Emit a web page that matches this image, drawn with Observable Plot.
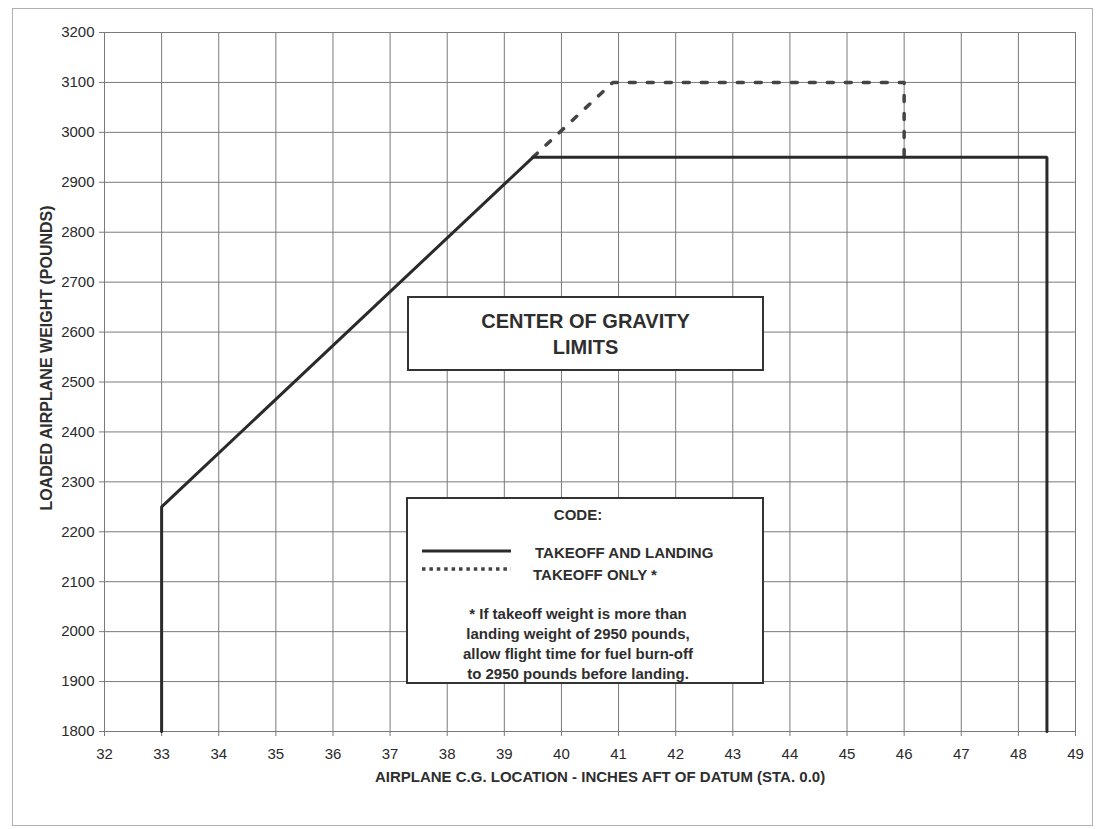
<!DOCTYPE html>
<html>
<head>
<meta charset="utf-8">
<script src="https://cdn.jsdelivr.net/npm/d3@7"></script>
<script src="https://cdn.jsdelivr.net/npm/@observablehq/plot@0.6"></script>
<style>
  html, body { margin: 0; padding: 0; background: #fff; }
  #wrap { position: relative; width: 1098px; height: 829px; font-family: "Liberation Sans", Arial, sans-serif; color: #2e2e2e; }
  #wrap svg { position: absolute; left: 0; top: 0; }
  .abs { position: absolute; }
  #frame { left: 12px; top: 8px; width: 1081px; height: 818px; border: 1px solid #b0b0b0; box-sizing: border-box; }
  #titlebox { left: 407px; top: 296px; width: 357px; height: 75px; border: 2px solid #333; background: #fff; box-sizing: border-box;
              text-align: center; font-weight: bold; font-size: 20px; line-height: 26px; padding-top: 10px; }
  #codebox { left: 406px; top: 497px; width: 358px; height: 187px; border: 2px solid #333; background: #fff; box-sizing: border-box; }
  .lbl { font-weight: bold; font-size: 15px; white-space: nowrap; line-height: 20px; }
</style>
</head>
<body>
<div id="wrap">
  <div id="frame" class="abs"></div>
</div>
<script>
// Axis ticks
const xTicks = [32, 33, 34, 35, 36, 37, 38, 39, 40, 41, 42, 43, 44, 45, 46, 47, 48, 49];
const yTicks = [1800, 1900, 2000, 2100, 2200, 2300, 2400, 2500, 2600, 2700, 2800, 2900, 3000, 3100, 3200];

// Envelope: takeoff and landing (solid)
const solidX = [33, 33, 39.5, 48.5, 48.5];
const solidY = [1800, 2250, 2950, 2950, 1800];

// Envelope: takeoff only (dotted)
const dottedX = [39.5, 40.9, 46, 46];
const dottedY = [2950, 3100, 3100, 2950];

const xLabel = "AIRPLANE C.G. LOCATION - INCHES AFT OF DATUM (STA. 0.0)";
const yLabel = "LOADED AIRPLANE WEIGHT (POUNDS)";
const titleLines = ["CENTER OF GRAVITY", "LIMITS"];
const codeTitle = "CODE:";
const legendLabels = ["TAKEOFF AND LANDING", "TAKEOFF ONLY *"];
const noteLines = [
  "* If takeoff weight is more than",
  "landing weight of 2950 pounds,",
  "allow flight time for fuel burn-off",
  "to 2950 pounds before landing."
];

const solid = solidX.map((x, i) => ({x, y: solidY[i]}));
const dotted = dottedX.map((x, i) => ({x, y: dottedY[i]}));

const chart = Plot.plot({
  width: 1098,
  height: 829,
  marginLeft: 104,
  marginRight: 23,
  marginTop: 32,
  marginBottom: 98,
  style: {fontFamily: "'Liberation Sans', Arial, sans-serif", fontSize: "15px", color: "#2e2e2e", background: "transparent", overflow: "visible"},
  x: {domain: [32, 49], label: null},
  y: {domain: [1800, 3200], label: null},
  marks: [
    Plot.gridX(xTicks, {stroke: "#7a7a7a", strokeOpacity: 1, strokeWidth: 1}),
    Plot.gridY(yTicks, {stroke: "#7a7a7a", strokeOpacity: 1, strokeWidth: 1}),
    Plot.axisX(xTicks, {tickSize: 5, tickPadding: 12, tickFormat: d => String(d), label: null, stroke: "#7a7a7a", fill: "#2a2a2a"}),
    Plot.axisY(yTicks, {tickSize: 5, tickPadding: 5, tickFormat: d => String(d), label: null, stroke: "#7a7a7a", fill: "#2a2a2a"}),
    Plot.line(dotted, {x: "x", y: "y", stroke: "#444", strokeWidth: 3.5, strokeDasharray: "6,12"}),
    Plot.line(solid, {x: "x", y: "y", stroke: "#2a2a2a", strokeWidth: 3, strokeLinejoin: "miter"}),
    Plot.text([xLabel], {frameAnchor: "bottom", dy: 50, dx: 10, fontWeight: "bold", fontSize: 15, fill: "#2e2e2e"}),
    Plot.text([yLabel], {frameAnchor: "left", textAnchor: "middle", rotate: -90, dx: -58, dy: -24, fontWeight: "bold", fontSize: 16, fill: "#2e2e2e"})
  ]
});

const wrap = document.getElementById("wrap");
wrap.appendChild(chart);

// Title annotation box
const tb = document.createElement("div");
tb.id = "titlebox"; tb.className = "abs";
tb.innerHTML = titleLines.join("<br>");
wrap.appendChild(tb);

// Code (legend) box
const cb = document.createElement("div");
cb.id = "codebox"; cb.className = "abs";
wrap.appendChild(cb);

function addLabel(text, left, centerY, opts = {}) {
  const d = document.createElement("div");
  d.className = "abs lbl";
  d.textContent = text;
  d.style.top = (centerY - 10) + "px";
  if (opts.center) {
    d.style.left = (opts.center - 200) + "px";
    d.style.width = "400px";
    d.style.textAlign = "center";
  } else {
    d.style.left = left + "px";
  }
  if (opts.size) d.style.fontSize = opts.size + "px";
  wrap.appendChild(d);
}

addLabel(codeTitle, 0, 515, {center: 578});
addLabel(legendLabels[0], 535, 553);
addLabel(legendLabels[1], 533, 575);
const noteY = [614, 634, 654, 674];
noteLines.forEach((t, i) => addLabel(t, 0, noteY[i], {center: 578}));

// Legend line samples
const ls = d3.create("svg").attr("width", 100).attr("height", 40)
  .style("left", "418px").style("top", "540px");
ls.append("line").attr("x1", 4).attr("x2", 93).attr("y1", 11).attr("y2", 11)
  .attr("stroke", "#2a2a2a").attr("stroke-width", 3);
ls.append("line").attr("x1", 4).attr("x2", 93).attr("y1", 29).attr("y2", 29)
  .attr("stroke", "#444").attr("stroke-width", 3.5).attr("stroke-dasharray", "3.5,3.9");
wrap.appendChild(ls.node());
</script>
</body>
</html>
